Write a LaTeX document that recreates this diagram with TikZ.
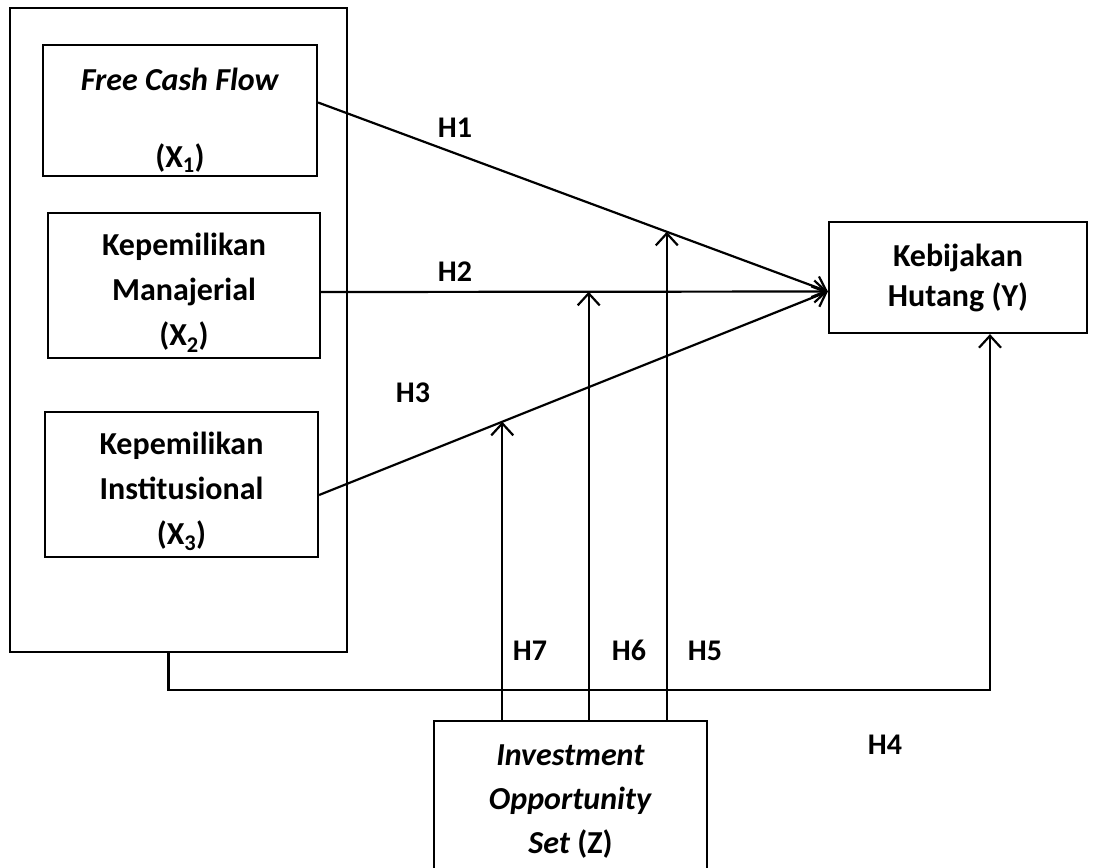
\documentclass[tikz,border=0pt]{standalone}
\usepackage{fontspec}
\setmainfont{Carlito}
\usetikzlibrary{arrows.meta}
\begin{document}
\begin{tikzpicture}[x=1pt,y=-1pt,
    var/.style={draw,line width=2.2pt,align=center,inner sep=0pt,font=\fontsize{32}{45}\selectfont\bfseries},
    arr/.style={line width=2.2pt,-{Straight Barb[length=12pt,width=22pt,line width=2.2pt]}},
    hyp/.style={font=\fontsize{30}{36}\selectfont\bfseries,text height=19pt,text depth=0pt}]
    \useasboundingbox (0,0) rectangle (1096,868);
    %\fill[white] (0,0) rectangle (1096,868);
    \node[var,minimum width=337pt,minimum height=644pt] (grp) at (178.5,330) {};
    \node[var,minimum width=274pt,minimum height=131pt] (x1) at (180,110.5) {\rule{0pt}{42pt}\textit{Free Cash Flow}\\[32pt](X\textsubscript{1})};
    \node[var,minimum width=272pt,minimum height=145pt] (x2) at (184,285.5) {\rule{0pt}{37pt}Kepemilikan\\Manajerial\\(X\textsubscript{2})};
    \node[var,minimum width=273pt,minimum height=145pt] (x3) at (181.5,484.5) {\rule{0pt}{37pt}Kepemilikan\\Institusional\\(X\textsubscript{3})};
    \node[var,minimum width=258pt,minimum height=111pt,font=\fontsize{32}{40}\selectfont\bfseries] (y) at (958,277.5) {Kebijakan\\Hutang (Y)};
    \node[var,minimum width=273pt,minimum height=162pt,font=\fontsize{32}{44}\selectfont\bfseries] (z) at (570.5,802) {\textit{Investment}\\\textit{Opportunity}\\\textit{Set} (Z)};
    \draw[arr] ([yshift=8pt]x1.east) -- coordinate[pos=0.684] (h5tip) ([yshift=-14pt]y.west);
    \draw[arr] ([yshift=-6.5pt]x2.east) -- coordinate[pos=0.528] (h6tip) ([yshift=-14pt]y.west);
    \draw[arr] ([yshift=-10.5pt]x3.east) -- coordinate[pos=0.36] (h7tip) ([yshift=-14pt]y.west);
    \draw[arr] (z.north -| h7tip) -- (h7tip);
    \draw[arr] (z.north -| h6tip) -- (h6tip);
    \draw[arr] (z.north -| h5tip) -- (h5tip);
    \draw[arr] ([xshift=-10pt]grp.south) -- ++(0,37) -| ([xshift=32pt]y.south);
    \node[hyp] (h1) at (455,128) {H1};
    \node[hyp] (h2) at (455,272) {H2};
    \node[hyp] (h3) at (413,393) {H3};
    \node[hyp] (h7) at (530,651) {H7};
    \node[hyp] (h6) at (629,651) {H6};
    \node[hyp] (h5) at (705,651) {H5};
    \node[hyp] (h4) at (885,745) {H4};
\end{tikzpicture}
\end{document}
